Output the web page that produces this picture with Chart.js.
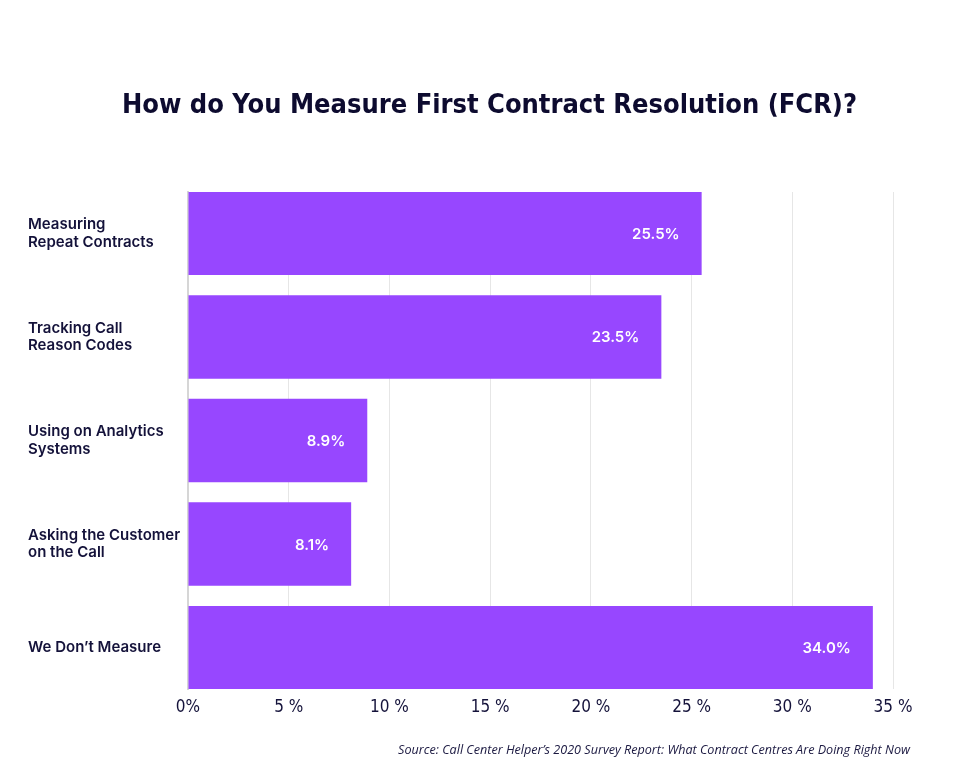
<!DOCTYPE html>
<html>
<head>
<meta charset="utf-8">
<script src="https://cdn.jsdelivr.net/npm/chart.js@4"></script>
<style>
	body { margin: 0; background: #fff; }
	#wrap { position: relative; width: 960px; height: 780px; }
	#title { position: absolute; left: 0; width: 979px; top: 88px; line-height: 34px; text-align: center; white-space: nowrap;
		font: bold 27px 'DejaVu Sans Condensed', 'Liberation Sans Narrow', 'DejaVu Sans', sans-serif; color: #0d0b2f; }
	#source { position: absolute; right: 50px; top: 741px; font: italic 12.6px 'Open Sans', sans-serif; color: #1a1840; white-space: nowrap; }
</style>
</head>
<body>
<div id="wrap">
	<canvas id="fcrChart" width="960" height="780"></canvas>
	<div id="title">How do You Measure First Contract Resolution (FCR)?</div>
	<div id="source">Source: Call Center Helper’s 2020 Survey Report: What Contract Centres Are Doing Right Now</div>
</div>
<script>
// chart data
var categories = [
	['Measuring', 'Repeat Contracts'],
	['Tracking Call', 'Reason Codes'],
	['Using on Analytics', 'Systems'],
	['Asking the Customer', 'on the Call'],
	'We Don’t Measure'
];
var values = [25.5, 23.5, 8.9, 8.1, 34.0];
var valueLabels = ['25.5%', '23.5%', '8.9%', '8.1%', '34.0%'];
var tickLabels = ['0%', '5 %', '10 %', '15 %', '20 %', '25 %', '30 %', '35 %'];

var navy = '#14123a';
var narrow = "'DejaVu Sans Condensed', 'Liberation Sans Narrow', 'DejaVu Sans', sans-serif";

// white value labels inside the bar ends
var barValues = {
	id: 'barValues',
	afterDatasetsDraw: function (chart) {
		var ctx = chart.ctx;
		var meta = chart.getDatasetMeta(0);
		ctx.save();
		ctx.fillStyle = '#fff';
		ctx.font = '600 15px Inter';
		ctx.textAlign = 'right';
		ctx.textBaseline = 'middle';
		meta.data.forEach(function (bar, i) {
			ctx.fillText(valueLabels[i], bar.x - 22, bar.y + 1);
		});
		ctx.restore();
	}
};

var ctx = document.getElementById('fcrChart');
var fcrChart = new Chart(ctx, {
	type: 'bar',
	data: {
		datasets: [{
			data: values.map(function (v, i) { return { x: v, y: i }; }),
			backgroundColor: '#9747ff',
			borderWidth: 0,
			barPercentage: 0.805,
			categoryPercentage: 1
		}]
	},
	options: {
		indexAxis: 'y',
		responsive: false,
		devicePixelRatio: 1,
		animation: false,
		layout: { padding: { left: 28, right: 67, top: 192, bottom: 61 } },
		plugins: {
			legend: { display: false },
			tooltip: { enabled: false },
			title: { display: false }
		},
		scales: {
			x: {
				min: 0,
				max: 35,
				grid: { color: '#e6e6e6', drawTicks: false },
				border: { display: false },
				ticks: {
					stepSize: 5,
					padding: 8,
					color: navy,
					font: { family: narrow, size: 17 },
					callback: function (v, i) { return tickLabels[i]; }
				},
				afterFit: function (s) { s.height = 30; }
			},
			y: {
				type: 'linear',
				min: -0.4,
				max: 4.4,
				offset: false,
				reverse: true,
				grid: { display: false },
				border: { display: true, color: '#d6d6d6', width: 2 },
				afterBuildTicks: function (s) {
					s.ticks = categories.map(function (c, i) { return { value: i }; });
				},
				afterFit: function (s) { s.width = 160; },
				ticks: {
					crossAlign: 'far',
					color: navy,
					font: { family: 'Inter', size: 15, weight: '600', lineHeight: 1.15 },
					callback: function (v) { return categories[v]; }
				}
			}
		}
	},
	plugins: [barValues]
});
</script>
</body>
</html>
